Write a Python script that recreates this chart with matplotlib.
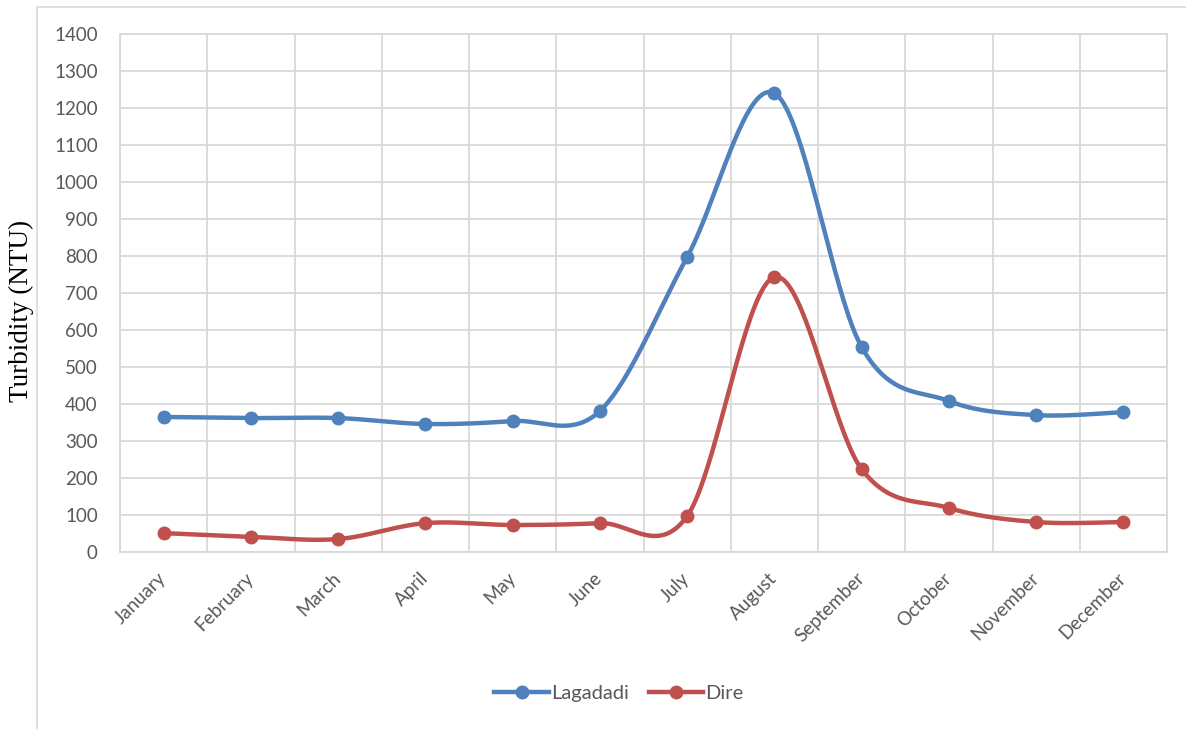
import numpy as np
import matplotlib.pyplot as plt
import matplotlib.transforms as mtransforms
from matplotlib.lines import Line2D
from matplotlib.patches import Rectangle

months = ["January", "February", "March", "April", "May", "June", "July",
          "August", "September", "October", "November", "December"]
lagadadi = [365, 362, 362, 346, 354, 381, 797, 1240, 554, 408, 370, 378]
dire = [51, 41, 35, 78, 73, 78, 97, 743, 224, 119, 81, 81]

BLUE = "#4F81BD"
RED = "#C0504D"
GRID = "#D9D9D9"
TXT = "#595959"


def smooth(x, y, n=40):
    # cubic Bezier through every point, tangents from neighbours (smoothed-line look)
    x = np.asarray(x, float)
    y = np.asarray(y, float)
    px = np.concatenate([[x[0]], x, [x[-1]]])
    py = np.concatenate([[y[0]], y, [y[-1]]])
    t = np.linspace(0, 1, n)[:, None]
    xs, ys = [], []
    for i in range(1, len(px) - 2):
        p0 = np.array([px[i], py[i]])
        p3 = np.array([px[i + 1], py[i + 1]])
        p1 = p0 + (np.array([px[i + 1], py[i + 1]]) - np.array([px[i - 1], py[i - 1]])) / 6
        p2 = p3 - (np.array([px[i + 2], py[i + 2]]) - np.array([px[i], py[i]])) / 6
        b = ((1 - t) ** 3) * p0 + 3 * ((1 - t) ** 2) * t * p1 + 3 * (1 - t) * t ** 2 * p2 + t ** 3 * p3
        xs.append(b[:, 0])
        ys.append(b[:, 1])
    return np.concatenate(xs), np.concatenate(ys)


plt.rcParams['font.family'] = ['Lato', 'DejaVu Sans']

fig = plt.figure(figsize=(11.86, 7.29), dpi=100)
ax = fig.add_axes([120 / 1186, 1 - 552 / 729, (1167 - 120) / 1186, (552 - 34) / 729])

# chart area frame
fig.patches.append(Rectangle((37 / 1186, -0.05), 1.0, 1 - 7 / 729 + 0.05,
                             transform=fig.transFigure, fill=False,
                             edgecolor=GRID, linewidth=1.2))

x = np.arange(len(months))
for vals, col in [(lagadadi, BLUE), (dire, RED)]:
    sx, sy = smooth(x, vals)
    ax.plot(sx, sy, color=col, linewidth=3.2, solid_capstyle='round', zorder=3)
    ax.plot(x, vals, 'o', color=col, markersize=9, zorder=4)

ax.set_xlim(-0.5, len(months) - 0.5)
ax.set_ylim(0, 1400)
ax.set_yticks(np.arange(0, 1401, 100))
ax.set_xticks(x)
ax.set_xticklabels(months, rotation=45, ha='right', va='center',
                   rotation_mode='anchor', fontsize=13.5, color=TXT)
# nudge the slanted month names a little to the right
shift = mtransforms.ScaledTranslation(5 / 100, 0, fig.dpi_scale_trans)
for lbl in ax.get_xticklabels():
    lbl.set_transform(lbl.get_transform() + shift)
ax.set_xticks(np.arange(-0.5, len(months)), minor=True)
ax.tick_params(axis='x', which='major', length=0, pad=17)
ax.tick_params(axis='x', which='minor', length=0)
ax.tick_params(axis='y', length=0, pad=16, labelsize=13.5, labelcolor=TXT)

ax.grid(True, axis='y', color=GRID, linewidth=1.3)
ax.grid(True, axis='x', which='minor', color=GRID, linewidth=1.3)
ax.grid(False, axis='x', which='major')
for s in ax.spines.values():
    s.set_color(GRID)
    s.set_linewidth(1.3)
ax.set_axisbelow(True)

fig.text(21 / 1186, 1 - 311 / 729, "Turbidity (NTU)", rotation=90,
         ha='center', va='center', fontsize=19.5, family='Liberation Serif')

handles = [Line2D([], [], color=BLUE, lw=3.2, marker='o', markersize=9),
           Line2D([], [], color=RED, lw=3.2, marker='o', markersize=9)]
leg = fig.legend(handles, ["Lagadadi", "Dire"], loc='center',
                 bbox_to_anchor=(619 / 1186, 1 - 693 / 729), ncol=2,
                 frameon=False, fontsize=14.5, handlelength=2.7,
                 handletextpad=0.1, columnspacing=1.0)
for t in leg.get_texts():
    t.set_color(TXT)

fig.savefig("out.png", dpi=100)
